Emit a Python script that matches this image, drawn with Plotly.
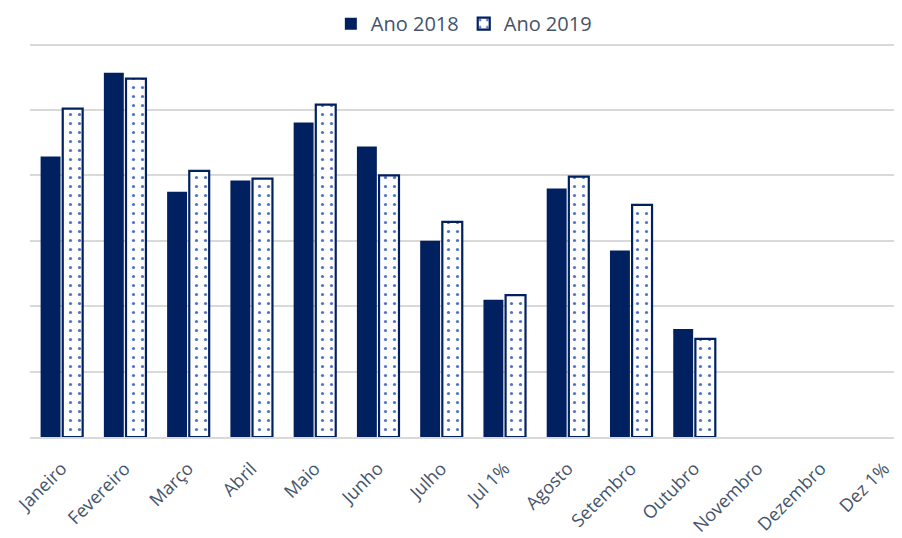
import plotly.graph_objects as go

categories = ["Janeiro", "Fevereiro", "Março", "Abril", "Maio", "Junho", "Julho",
              "Jul 1%", "Agosto", "Setembro", "Outubro", "Novembro", "Dezembro", "Dez 1%"]
ano_2018 = [4.29, 5.57, 3.75, 3.92, 4.81, 4.44, 3.00, 2.10, 3.80, 2.85, 1.65, None, None, None]
ano_2019 = [5.02, 5.48, 4.07, 3.95, 5.08, 4.00, 3.29, 2.17, 3.98, 3.55, 1.50, None, None, None]

navy = "#002060"

fig = go.Figure()
fig.add_trace(go.Bar(
    x=categories, y=ano_2018, name="Ano 2018",
    marker=dict(color=navy, line=dict(color=navy, width=0)),
))
fig.add_trace(go.Bar(
    x=categories, y=ano_2019, name="Ano 2019",
    marker=dict(color="white", line=dict(color=navy, width=2.2),
                pattern=dict(shape=".", fgcolor="#4f74c8", bgcolor="white",
                             size=9, solidity=0.1, fillmode="replace")),
))

fig.update_layout(
    width=902, height=538,
    margin=dict(l=21.5, r=0, t=30.3, b=109, autoexpand=False),
    paper_bgcolor="white", plot_bgcolor="white",
    barmode="group", bargap=0.3, bargroupgap=0.1,
    font=dict(family="Open Sans, Liberation Sans, sans-serif", color="#44546a"),
    legend=dict(orientation="h", x=0.493, xanchor="center", y=1.036, yanchor="middle",
                font=dict(size=20, color="#44546a"), traceorder="normal"),
    showlegend=True,
)
fig.update_xaxes(
    range=[-0.5, 13.41],
    tickangle=-45, tickfont=dict(size=18, color="#44546a"),
    ticklabelstandoff=12,
    showline=True, linecolor="#d9d9d9", linewidth=2, ticks="", showgrid=False,
    automargin=False,
)
fig.update_yaxes(
    range=[0, 6.1], tickvals=[1, 2, 3, 4, 5, 6], showticklabels=False, showgrid=True,
    gridcolor="#d9d9d9", gridwidth=2, zeroline=False, showline=False,
    automargin=False,
)

fig.write_html("out.html")
